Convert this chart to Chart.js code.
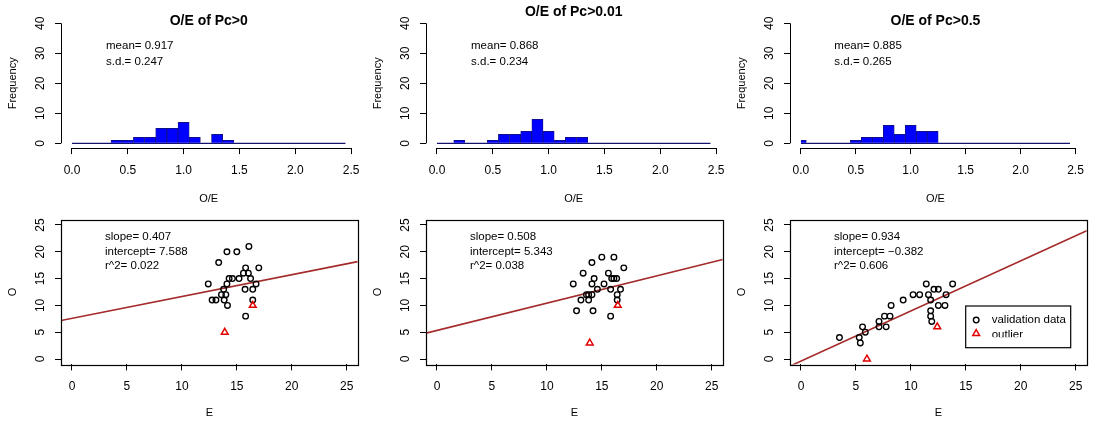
<!DOCTYPE html>
<html>
<head>
<meta charset="utf-8">
<title>O/E of Pc</title>
<script src="https://cdn.jsdelivr.net/npm/chart.js@4.4.1/dist/chart.umd.min.js"></script>
<style>
  html, body { margin: 0; padding: 0; background: #ffffff; }
  #figure { position: relative; width: 1093px; height: 423px; overflow: hidden; background: #ffffff; }
  #figure canvas { position: absolute; left: 0; top: 0; }
</style>
</head>
<body>
<div id="figure">
  <canvas id="hist0" width="1093" height="423"></canvas>
  <canvas id="hist1" width="1093" height="423"></canvas>
  <canvas id="hist2" width="1093" height="423"></canvas>
  <canvas id="fit0" width="1093" height="423"></canvas>
  <canvas id="fit1" width="1093" height="423"></canvas>
  <canvas id="fit2" width="1093" height="423"></canvas>
</div>
<script>
// ---------- histogram data: O/E counts in 0.1-wide bins ----------
const binCentres  = [0.0, 0.1, 0.2, 0.3, 0.4, 0.5, 0.6, 0.7, 0.8, 0.9, 1.0, 1.1, 1.2,
                     1.3, 1.4, 1.5, 1.6, 1.7, 1.8, 1.9, 2.0, 2.1, 2.2, 2.3, 2.4];
const countsPc0   = [0, 0, 0, 0, 1, 1, 2, 2, 5, 5, 7, 2, 0, 3, 1, 0, 0, 0, 0, 0, 0, 0, 0, 0, 0];
const countsPc001 = [0, 0, 1, 0, 0, 1, 3, 3, 4, 8, 4, 1, 2, 2, 0, 0, 0, 0, 0, 0, 0, 0, 0, 0, 0];
const countsPc05  = [1, 0, 0, 0, 0, 1, 2, 2, 6, 3, 6, 4, 4, 0, 0, 0, 0, 0, 0, 0, 0, 0, 0, 0, 0];

const histTitles = ['O/E of Pc>0', 'O/E of Pc>0.01', 'O/E of Pc>0.5'];
const histMeans  = ['0.917', '0.868', '0.885'];
const histSDs    = ['0.247', '0.234', '0.265'];

const oeTicks       = [0, 0.5, 1, 1.5, 2, 2.5];
const oeTickLabels  = ['0.0', '0.5', '1.0', '1.5', '2.0', '2.5'];
const freqTicks     = [0, 10, 20, 30, 40];
const freqTickLabels = ['0', '10', '20', '30', '40'];

// ---------- observed (O) vs expected (E) ----------
const valE_Pc0 = [12.4, 12.75, 13.1, 13.35, 13.6, 13.8, 13.85, 14.0, 14.1, 14.1, 14.15, 14.3, 14.6,
                  15.0, 15.2, 15.6, 15.75, 15.8, 15.8, 16.05, 16.1, 16.25, 16.45, 16.45, 16.75, 17.0];
const valO_Pc0 = [14, 11, 11, 18, 12, 13, 11, 12, 14, 20, 10, 15, 15,
                  20, 15, 16, 13, 17, 8, 16, 21, 15, 13, 11, 14, 17];
const outE_Pc0 = [13.9, 16.45];
const outO_Pc0 = [5, 10];

const valE_Pc001 = [12.4, 12.7, 13.1, 13.3, 13.6, 13.8, 13.8, 14.1, 14.1, 14.1, 14.2, 14.3, 14.6,
                    15.0, 15.2, 15.6, 15.8, 15.8, 15.9, 16.1, 16.1, 16.35, 16.4, 16.4, 16.7, 17.0];
const valO_Pc001 = [14, 9, 11, 16, 12, 12, 11, 12, 14, 18, 9, 15, 13,
                    19, 14, 16, 13, 8, 15, 15, 19, 15, 12, 11, 13, 17];
const outE_Pc001 = [13.9, 16.45];
const outO_Pc001 = [3, 10];

const valE_Pc05 = [3.5, 5.3, 5.4, 5.6, 5.85, 7.1, 7.1, 7.75, 7.6, 8.1, 8.2, 9.3, 10.2,
                   10.8, 11.4, 11.6, 12.1, 12.5, 11.8, 13.8, 13.2, 12.5, 13.1, 11.8, 11.8, 11.9];
const valO_Pc05 = [4, 4, 3, 6, 5, 7, 6, 6, 8, 8, 10, 11, 12,
                   12, 14, 12, 13, 13, 11, 14, 12, 10, 10, 9, 8, 7];
const outE_Pc05 = [6.0, 12.4];
const outO_Pc05 = [0, 6];

const fitSlopes     = [0.407, 0.508, 0.934];
const fitIntercepts = [7.588, 5.343, -0.382];
const fitR2         = ['0.022', '0.038', '0.606'];

const eoTicks      = [0, 5, 10, 15, 20, 25];
const eoTickLabels = ['0', '5', '10', '15', '20', '25'];

const legendLabels = ['validation data', 'outlier'];

// ---------- layout / styling ----------
const FONT = "'Liberation Sans', Arial, Helvetica, sans-serif";
Chart.defaults.font.family = FONT;
Chart.defaults.color = '#000';

const PAGE_W = 1093, PAGE_H = 423;
const panelLeft = [0, 365, 729];
const Y_AXIS_W = 61;
const TICK_FONT = { family: FONT, size: 12 };
const LAB_FONT = { family: FONT, size: 11 };
const NOTE_FONT = '11.5px ' + FONT;
const histTitleY = [21.5, 12.5, 21.5];

function tickX(values, labels, min, max, height, title) {
  return {
    type: 'linear', position: 'bottom', min, max, offset: false,
    afterBuildTicks: s => { s.ticks = values.map(v => ({ value: v })); },
    afterFit: s => { s.height = height; },
    grid: { display: true, drawOnChartArea: false, drawTicks: true, tickLength: 6,
            color: '#000', lineWidth: 1, offset: false },
    border: { display: false },
    ticks: { font: TICK_FONT, color: '#000', padding: 9, autoSkip: false,
             minRotation: 0, maxRotation: 0, callback: (v, i) => labels[i] },
    title: { display: true, text: title, font: LAB_FONT, color: '#000', padding: 0 }
  };
}

function tickY(values, labels, min, max, title) {
  return {
    type: 'linear', position: 'left', min, max,
    afterBuildTicks: s => { s.ticks = values.map(v => ({ value: v })); },
    afterFit: s => { s.width = Y_AXIS_W; },
    grid: { display: true, drawOnChartArea: false, drawTicks: true, tickLength: 6,
            color: '#000', lineWidth: 1 },
    border: { display: false },
    ticks: { font: TICK_FONT, color: '#000', padding: 7.5, autoSkip: false,
             minRotation: 90, maxRotation: 90, crossAlign: 'center',
             callback: (v, i) => labels[i] },
    title: { display: true, text: title, font: LAB_FONT, color: '#000',
             padding: { top: 6.4, bottom: 0 } }
  };
}

function padFor(area, xAxisH) {
  return {
    left: area.left - Y_AXIS_W,
    right: PAGE_W - area.right,
    top: area.top,
    bottom: PAGE_H - area.bottom - xAxisH
  };
}

// ---------- histograms ----------
const histCounts = [countsPc0, countsPc001, countsPc05];
const HIST_X = [-0.098, 2.548], HIST_Y = [-1.6, 41.6];
const HIST_XH = 57.5;

histCounts.forEach((counts, i) => {
  const ox = panelLeft[i];
  const area = { left: ox + 61.06, right: ox + 356.4, top: 18.5, bottom: 148.1 };
  const half = (binCentres[1] - binCentres[0]) / 2;
  const clipToZero = { left: -10.9, top: 0, right: 0, bottom: 0 };

  new Chart(document.getElementById('hist' + i), {
    type: 'bar',
    data: {
      datasets: [
        {
          type: 'bar',
          data: binCentres.map((c, k) => ({ x: c, y: counts[k] })),
          backgroundColor: '#0000ff',
          borderColor: '#14146e',
          borderWidth: 0.75,
          barPercentage: 1, categoryPercentage: 1,
          clip: clipToZero, order: 0
        },
        {
          type: 'line',
          data: [{ x: binCentres[0] - half, y: 0 }, { x: binCentres[binCentres.length - 1] + half, y: 0 }],
          borderColor: '#14146e', borderWidth: 1.2, pointRadius: 0, fill: false,
          clip: clipToZero, order: 1
        }
      ]
    },
    options: {
      responsive: false, animation: false, events: [],
      layout: { autoPadding: false, padding: padFor(area, HIST_XH) },
      plugins: { legend: { display: false }, tooltip: { enabled: false }, title: { display: false } },
      scales: {
        x: tickX(oeTicks, oeTickLabels, HIST_X[0], HIST_X[1], HIST_XH, 'O/E'),
        y: tickY(freqTicks, freqTickLabels, HIST_Y[0], HIST_Y[1], 'Frequency')
      }
    },
    plugins: [{
      id: 'histDecor' + i,
      afterDraw(chart) {
        const { ctx, chartArea: a, scales: { x, y } } = chart;
        ctx.save();
        // axis lines running between the first and last tick
        ctx.strokeStyle = '#000';
        ctx.lineWidth = 1;
        ctx.beginPath();
        const by = Math.round(a.bottom) + 0.5;
        ctx.moveTo(x.getPixelForValue(oeTicks[0]), by);
        ctx.lineTo(x.getPixelForValue(oeTicks[oeTicks.length - 1]), by);
        const lx = Math.round(a.left) + 0.5;
        ctx.moveTo(lx, y.getPixelForValue(freqTicks[0]));
        ctx.lineTo(lx, y.getPixelForValue(freqTicks[freqTicks.length - 1]));
        ctx.stroke();
        // panel title
        ctx.fillStyle = '#000';
        ctx.font = 'bold 14px ' + FONT;
        ctx.textAlign = 'center';
        ctx.textBaseline = 'middle';
        ctx.fillText(histTitles[i], (a.left + a.right) / 2, histTitleY[i]);
        // summary statistics
        ctx.font = NOTE_FONT;
        ctx.textAlign = 'left';
        ctx.fillText('mean= ' + histMeans[i], x.getPixelForValue(0.305), y.getPixelForValue(32.4));
        ctx.fillText('s.d.= ' + histSDs[i], x.getPixelForValue(0.305), y.getPixelForValue(27.2));
        ctx.restore();
      }
    }]
  });
});

// ---------- O vs E scatter with fitted line ----------
const valE = [valE_Pc0, valE_Pc001, valE_Pc05];
const valO = [valO_Pc0, valO_Pc001, valO_Pc05];
const outE = [outE_Pc0, outE_Pc001, outE_Pc05];
const outO = [outO_Pc0, outO_Pc001, outO_Pc05];
const FIT_X = [-1, 26], FIT_Y = [-1, 26];
const FIT_XH = 55.2;
const fmt = v => (v < 0 ? '\u2212' : '') + Math.abs(v).toFixed(3);

const circleStyle = { pointStyle: 'circle', pointRadius: 2.8, pointBorderWidth: 1.35,
                      pointBorderColor: '#000', pointBackgroundColor: 'rgba(0,0,0,0)' };
const triStyle = { pointStyle: 'triangle', pointRadius: 3.9, pointBorderWidth: 1.5,
                   pointBorderColor: '#e00000', pointBackgroundColor: 'rgba(0,0,0,0)' };

valE.forEach((es, i) => {
  const ox = panelLeft[i];
  const area = { left: ox + 61.0, right: ox + 357.7, top: 219.6, bottom: 364.4 };
  const line = FIT_X.map(e => ({ x: e, y: fitIntercepts[i] + fitSlopes[i] * e }));

  new Chart(document.getElementById('fit' + i), {
    type: 'scatter',
    data: {
      datasets: [
        Object.assign({ label: legendLabels[0], data: es.map((e, k) => ({ x: e, y: valO[i][k] })), order: 2 }, circleStyle),
        Object.assign({ label: legendLabels[1], data: outE[i].map((e, k) => ({ x: e, y: outO[i][k] })), order: 1 }, triStyle),
        { type: 'line', label: 'fit', data: line, borderColor: '#a52a2a', borderWidth: 1.6,
          pointRadius: 0, fill: false, order: 3 }
      ]
    },
    options: {
      responsive: false, animation: false, events: [],
      layout: { autoPadding: false, padding: padFor(area, FIT_XH) },
      plugins: { legend: { display: false }, tooltip: { enabled: false }, title: { display: false } },
      scales: {
        x: tickX(eoTicks, eoTickLabels, FIT_X[0], FIT_X[1], FIT_XH, 'E'),
        y: tickY(eoTicks, eoTickLabels, FIT_Y[0], FIT_Y[1], 'O')
      }
    },
    plugins: [{
      id: 'fitDecor' + i,
      afterDraw(chart) {
        const { ctx, chartArea: a, scales: { x, y } } = chart;
        ctx.save();
        // plot frame
        ctx.strokeStyle = '#000';
        ctx.lineWidth = 1.2;
        ctx.strokeRect(Math.round(a.left) + 0.5, Math.round(a.top) + 0.5,
                       Math.round(a.right - a.left), Math.round(a.bottom - a.top));
        // regression summary
        ctx.fillStyle = '#000';
        ctx.font = NOTE_FONT;
        ctx.textAlign = 'left';
        ctx.textBaseline = 'middle';
        const tx = x.getPixelForValue(3.0);
        ctx.fillText('slope= ' + fmt(fitSlopes[i]), tx, y.getPixelForValue(22.7));
        ctx.fillText('intercept= ' + fmt(fitIntercepts[i]), tx, y.getPixelForValue(20.0));
        ctx.fillText('r^2= ' + fitR2[i], tx, y.getPixelForValue(17.35));

        if (i === 2) {
          // legend box in the lower right of the last panel
          const bw = 105, bh = 41.7;
          const bx = a.right - 16 - bw, byTop = a.bottom - 16.7 - bh;
          ctx.fillStyle = '#fff';
          ctx.fillRect(bx, byTop, bw, bh);
          ctx.strokeStyle = '#000';
          ctx.lineWidth = 1.2;
          ctx.strokeRect(bx, byTop, bw, bh);
          const symX = bx + 10.5, txtX = bx + 26;
          const rowY = [byTop + 14, byTop + 29];
          ctx.strokeStyle = circleStyle.pointBorderColor;
          ctx.lineWidth = circleStyle.pointBorderWidth;
          ctx.beginPath();
          ctx.arc(symX, rowY[0], circleStyle.pointRadius, 0, Math.PI * 2);
          ctx.stroke();
          ctx.strokeStyle = triStyle.pointBorderColor;
          ctx.fillStyle = 'rgba(0,0,0,0)';
          ctx.lineWidth = triStyle.pointBorderWidth;
          Chart.helpers.drawPoint(ctx, {
            pointStyle: 'triangle', radius: triStyle.pointRadius, borderWidth: triStyle.pointBorderWidth
          }, symX, rowY[1] - 1.5);
          ctx.fillStyle = '#000';
          ctx.font = NOTE_FONT;
          ctx.fillText(chart.data.datasets[0].label, txtX, rowY[0]);
          // the second entry's text is cut off short of the frame
          ctx.save();
          ctx.beginPath();
          ctx.rect(bx, byTop, bw, rowY[1] + 2.2 - byTop);
          ctx.clip();
          ctx.fillText(chart.data.datasets[1].label, txtX, rowY[1]);
          ctx.restore();
        }
        ctx.restore();
      }
    }]
  });
});
</script>
</body>
</html>
